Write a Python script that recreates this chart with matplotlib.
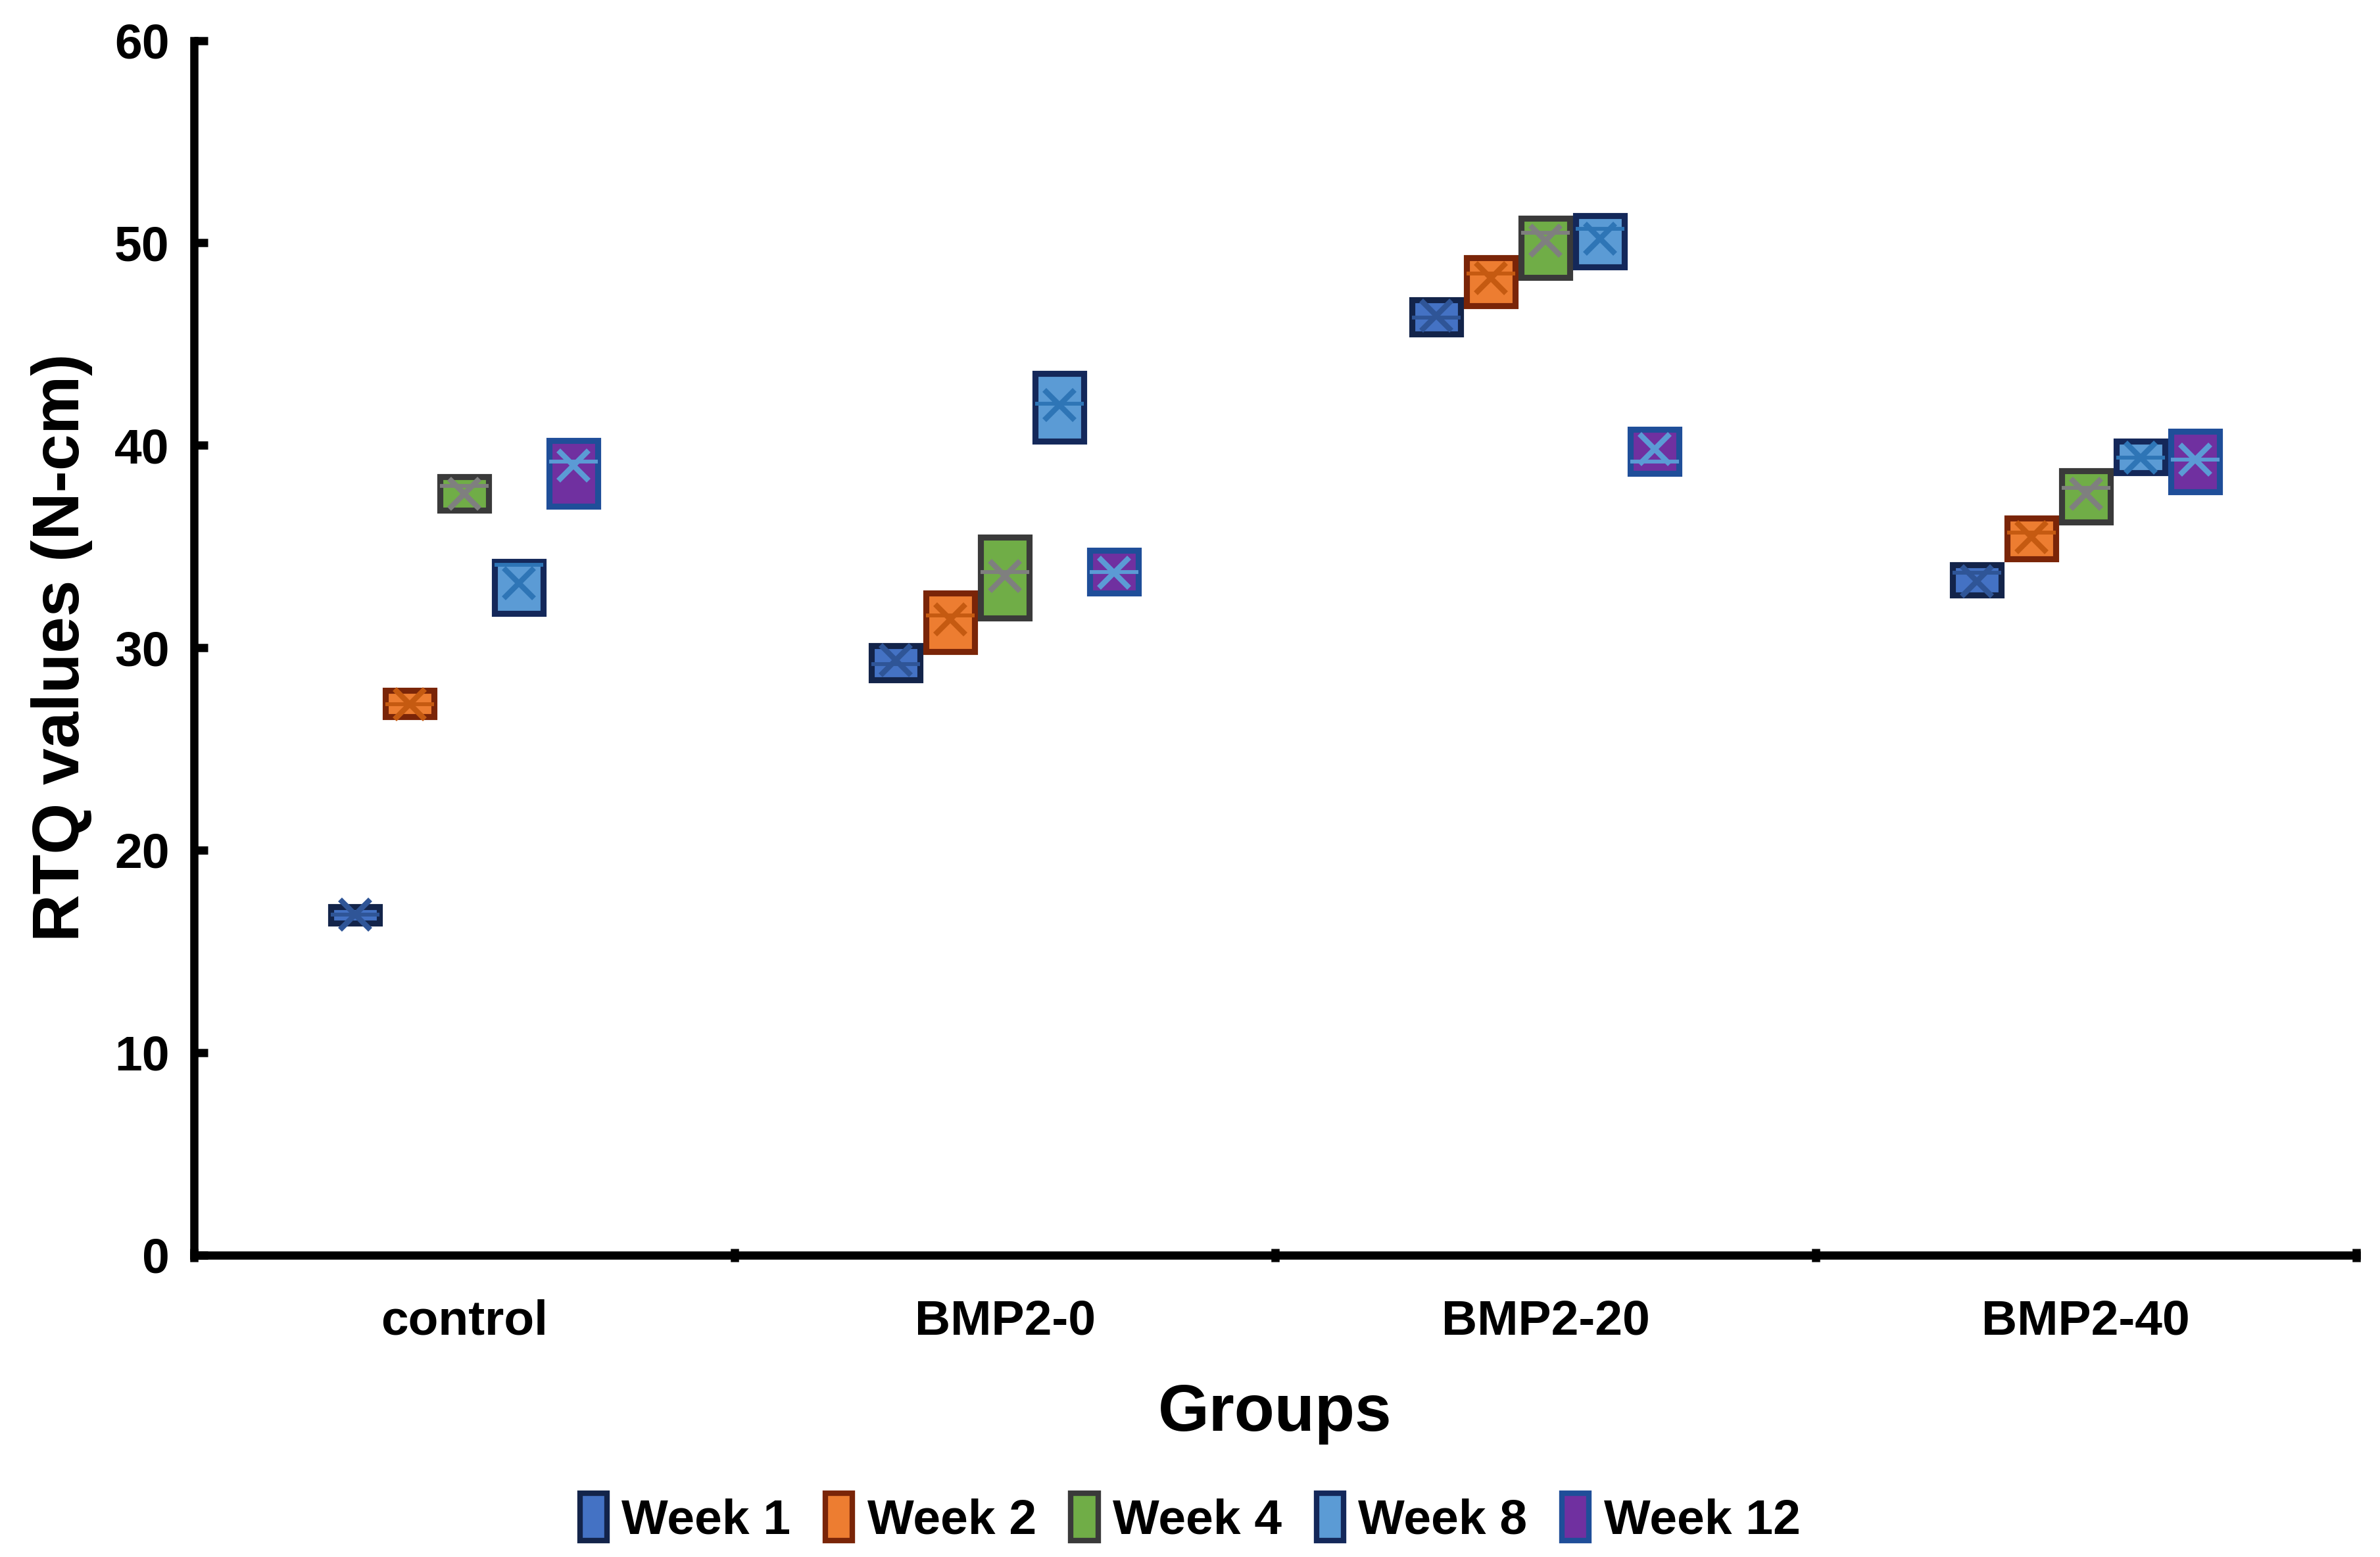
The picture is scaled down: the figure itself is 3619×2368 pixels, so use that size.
import numpy as np
import matplotlib
matplotlib.use('Agg')
import matplotlib.pyplot as plt
from matplotlib.patches import Patch

plt.rcParams['font.family'] = ['Liberation Sans', 'DejaVu Sans']
plt.rcParams['font.weight'] = 'bold'

groups = ['control', 'BMP2-0', 'BMP2-20', 'BMP2-40']
weeks = ['Week 1', 'Week 2', 'Week 4', 'Week 8', 'Week 12']

# one row per week, one column per group
q1 = [[16.4, 28.4, 45.5, 32.6],
      [26.6, 29.8, 46.9, 34.4],
      [36.8, 31.45, 48.3, 36.2],
      [31.7, 40.2, 48.8, 38.65],
      [37.0, 32.7, 38.6, 37.7]]
q3 = [[17.2, 30.1, 47.2, 34.1],
      [27.9, 32.7, 49.25, 36.4],
      [38.45, 35.45, 51.2, 38.75],
      [34.25, 43.55, 51.35, 40.2],
      [40.25, 34.8, 40.8, 40.7]]
medians = [[16.8, 29.2, 46.3, 33.7],
           [27.2, 31.6, 48.5, 35.7],
           [38.0, 33.75, 50.5, 37.9],
           [34.1, 42.05, 50.7, 39.4],
           [39.2, 33.75, 39.2, 39.3]]
means = [[16.8, 29.4, 46.4, 33.3],
         [27.2, 31.4, 48.25, 35.45],
         [37.6, 33.55, 50.1, 37.6],
         [33.2, 42.0, 50.2, 39.4],
         [39.0, 33.7, 39.8, 39.3]]

fills = ['#4472C4', '#ED7D31', '#70AD47', '#5B9BD5', '#7030A0']
edges = ['#13244A', '#7A2508', '#3A3A3A', '#14285A', '#1F4E99']
inner = ['#2F5597', '#C55A11', '#7F7F7F', '#2E75B6', '#5B9BD5']

fig = plt.figure(figsize=(3619 / 300, 2368 / 300), dpi=300)
ax = fig.add_axes([0.0816, 0.194, 0.9084, 0.780])

step = 0.101
width = 0.09
x = np.arange(len(groups))
for i, wk in enumerate(weeks):
    stats = []
    for j in range(len(groups)):
        stats.append(dict(med=medians[i][j], q1=q1[i][j], q3=q3[i][j],
                          whislo=q1[i][j], whishi=q3[i][j],
                          mean=means[i][j], fliers=[]))
    ax.bxp(stats, positions=x + (i - 2) * step, widths=width,
           patch_artist=True, showmeans=True, showcaps=False,
           showfliers=False, manage_ticks=False,
           boxprops=dict(facecolor=fills[i], edgecolor=edges[i], linewidth=2.2),
           medianprops=dict(color=inner[i], linewidth=1.4),
           whiskerprops=dict(color=edges[i], linewidth=0),
           meanprops=dict(marker='x', markersize=11, markeredgewidth=2.0,
                          markeredgecolor=inner[i]))

ax.set_xlim(-0.5, 3.5)
ax.set_ylim(0, 60)
ax.set_yticks(np.arange(0, 61, 10))
ax.set_xticks(x)
ax.set_xticklabels(groups)
ax.set_xticks(np.arange(-0.5, 3.6, 1.0), minor=True)

for s in ['top', 'right']:
    ax.spines[s].set_visible(False)
for s in ['left', 'bottom']:
    ax.spines[s].set_linewidth(3)

ax.tick_params(axis='y', direction='in', length=5, width=3, labelsize=18, pad=9)
ax.tick_params(axis='x', which='major', length=0, labelsize=18, pad=16)
ax.tick_params(axis='x', which='minor', direction='inout', length=5, width=3)

ax.set_xlabel('Groups', fontsize=24, fontweight='bold', labelpad=14)
ax.set_ylabel('RTQ values (N-cm)', fontsize=24, fontweight='bold', labelpad=8)

handles = [Patch(facecolor=fills[i], edgecolor=edges[i], linewidth=2, label=weeks[i])
           for i in range(len(weeks))]
fig.legend(handles=handles, loc='center', bbox_to_anchor=(0.5, 0.025), ncol=5,
           frameon=False, fontsize=18, handlelength=0.55, handleheight=1.1,
           handletextpad=0.3, columnspacing=0.7)

fig.savefig('out.png', dpi=300)
